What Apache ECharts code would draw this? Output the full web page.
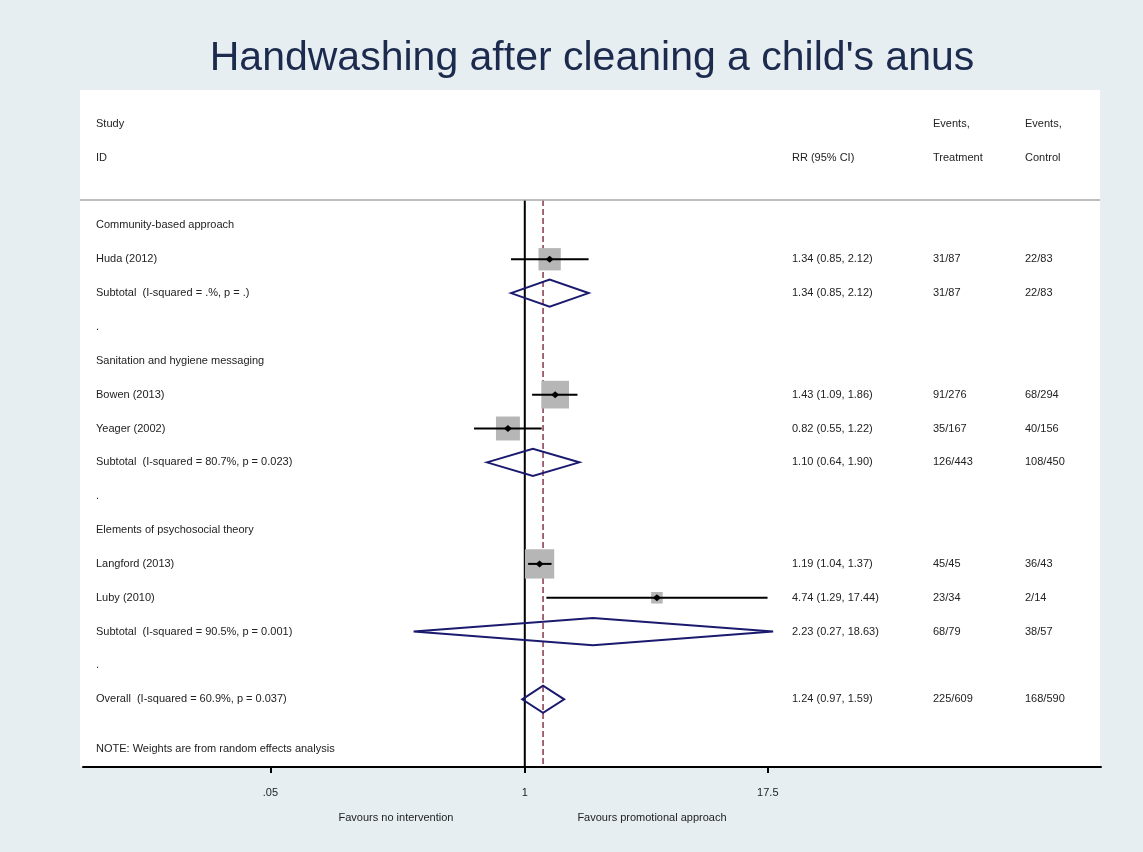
<!DOCTYPE html>
<html>
<head>
<meta charset="utf-8">
<title>Handwashing after cleaning a child's anus</title>
<script src="https://cdn.jsdelivr.net/npm/echarts@6.0.0/dist/echarts.min.js"></script>
<style>
  html, body { margin: 0; padding: 0; background: #e6eef2; }
  #chart { width: 1143px; height: 852px; }
</style>
</head>
<body>
<div id="chart"></div>
<script>
// 数据：每一行（从上到下）
const rowLabels = [
  'Community-based approach',
  'Huda (2012)',
  'Subtotal  (I-squared = .%, p = .)',
  '.',
  'Sanitation and hygiene messaging',
  'Bowen (2013)',
  'Yeager (2002)',
  'Subtotal  (I-squared = 80.7%, p = 0.023)',
  '.',
  'Elements of psychosocial theory',
  'Langford (2013)',
  'Luby (2010)',
  'Subtotal  (I-squared = 90.5%, p = 0.001)',
  '.',
  'Overall  (I-squared = 60.9%, p = 0.037)'
];
const rowKinds = ['group', 'study', 'sub', 'blank', 'group', 'study', 'study', 'sub', 'blank',
  'group', 'study', 'study', 'sub', 'blank', 'overall'];
const rrValues = [null, 1.34, 1.34, null, null, 1.43, 0.82, 1.10, null, null, 1.19, 4.74, 2.23, null, 1.24];
const rrLower = [null, 0.85, 0.85, null, null, 1.09, 0.55, 0.64, null, null, 1.04, 1.29, 0.27, null, 0.97];
const rrUpper = [null, 2.12, 2.12, null, null, 1.86, 1.22, 1.90, null, null, 1.37, 17.44, 18.63, null, 1.59];
// 随机效应权重（%），由方块大小估计
const weights = [null, 17.6, null, null, null, 27.1, 20.3, null, null, null, 30.3, 4.7, null, null, null];
const eventsTreatment = ['', '31/87', '31/87', '', '', '91/276', '35/167', '126/443', '', '', '45/45', '23/34', '68/79', '', '225/609'];
const eventsControl = ['', '22/83', '22/83', '', '', '68/294', '40/156', '108/450', '', '', '36/43', '2/14', '38/57', '', '168/590'];

const headerTop = ['Study', '', 'Events,', 'Events,'];
const headerBottom = ['ID', 'RR (95% CI)', 'Treatment', 'Control'];
const noteText = 'NOTE: Weights are from random effects analysis';

const xTicks = [0.05, 1, 17.5];
const xTickLabels = ['.05', '1', '17.5'];
const overallRR = rrValues[rowKinds.indexOf('overall')];

// 布局
const FONT = "'Liberation Sans', Arial, sans-serif";
const TEXT_COLOR = '#222';
const COL_X = [96, 792, 933, 1025];
const HEADER_ROWS = [-3, -2];
const HEADER_LINE_ROW = -0.75;
const NOTE_ROW = 15.47;
const AXIS_ROW = 16;
const BOX_SCALE = 5.32;

const ln = Math.log;

function fmt(v) { return v.toFixed(2); }

const chart = echarts.init(document.getElementById('chart'));

// 文本列
function renderText(params, api) {
  const i = params.dataIndex;
  const children = [];
  const addText = (x, y, text) => {
    if (!text) return;
    children.push({
      type: 'text', x: x, y: y,
      style: { text: text, fill: TEXT_COLOR, font: '11px ' + FONT, align: 'left', verticalAlign: 'middle' }
    });
  };
  if (i === 0) {
    // 表头
    const y1 = api.coord([0, HEADER_ROWS[0]])[1];
    const y2 = api.coord([0, HEADER_ROWS[1]])[1];
    [0, 1, 2, 3].forEach(c => {
      addText(COL_X[c], y1, headerTop[c]);
      addText(COL_X[c], y2, headerBottom[c]);
    });
    addText(COL_X[0], api.coord([0, NOTE_ROW])[1], noteText);
    const hl = api.coord([0, HEADER_LINE_ROW])[1];
    children.push({
      type: 'line',
      shape: { x1: 80, y1: hl, x2: 1100, y2: hl },
      style: { stroke: '#a8a8a8', lineWidth: 1.5 }
    });
  }
  const y = api.coord([0, i])[1];
  addText(COL_X[0], y, rowLabels[i]);
  if (rrValues[i] != null) {
    addText(COL_X[1], y, fmt(rrValues[i]) + ' (' + fmt(rrLower[i]) + ', ' + fmt(rrUpper[i]) + ')');
  }
  addText(COL_X[2], y, eventsTreatment[i]);
  addText(COL_X[3], y, eventsControl[i]);
  return { type: 'group', children: children };
}

// 参考线
function renderRefLines(params, api) {
  const top0 = api.coord([0, HEADER_LINE_ROW]);
  const bot0 = api.coord([0, AXIS_ROW]);
  const topO = api.coord([ln(overallRR), HEADER_LINE_ROW]);
  const botO = api.coord([ln(overallRR), AXIS_ROW]);
  return {
    type: 'group',
    children: [
      { type: 'line', shape: { x1: top0[0], y1: top0[1], x2: bot0[0], y2: bot0[1] },
        style: { stroke: '#000', lineWidth: 2 } },
      { type: 'line', shape: { x1: topO[0], y1: topO[1], x2: botO[0], y2: botO[1] },
        style: { stroke: '#8a3848', lineWidth: 1.5, lineDash: [6, 3] } }
    ]
  };
}

// 单个研究：方块 + 置信区间 + 点
function renderStudy(params, api) {
  const c = api.coord([api.value(0), api.value(3)]);
  const l = api.coord([api.value(1), api.value(3)]);
  const h = api.coord([api.value(2), api.value(3)]);
  const s = BOX_SCALE * Math.sqrt(api.value(4));
  return {
    type: 'group',
    children: [
      { type: 'rect', shape: { x: c[0] - s / 2, y: c[1] - s / 2, width: s, height: s },
        style: { fill: '#b6b6b6' } },
      { type: 'line', shape: { x1: l[0], y1: l[1], x2: h[0], y2: h[1] },
        style: { stroke: '#000', lineWidth: 2 } },
      { type: 'polygon', shape: { points: [[c[0] - 4, c[1]], [c[0], c[1] - 3.5], [c[0] + 4, c[1]], [c[0], c[1] + 3.5]] },
        style: { fill: '#000' } }
    ]
  };
}

// 合并效应菱形
function renderDiamond(params, api) {
  const r = api.value(3);
  const pts = [
    api.coord([api.value(1), r]),
    api.coord([api.value(0), r - 0.4]),
    api.coord([api.value(2), r]),
    api.coord([api.value(0), r + 0.4])
  ];
  return {
    type: 'polygon',
    shape: { points: pts },
    style: { fill: 'none', stroke: '#1a1a6e', lineWidth: 2 }
  };
}

const studyData = [];
const diamondData = [];
rowKinds.forEach((k, i) => {
  if (k === 'study') {
    studyData.push([ln(rrValues[i]), ln(rrLower[i]), ln(rrUpper[i]), i, weights[i]]);
  } else if (k === 'sub' || k === 'overall') {
    diamondData.push([ln(rrValues[i]), ln(rrLower[i]), ln(rrUpper[i]), i]);
  }
});

const tickValues = xTicks.map(ln);

const option = {
  backgroundColor: '#e6eef2',
  animation: false,
  graphic: [
    { type: 'rect', z: -10, shape: { x: 80, y: 90, width: 1020, height: 677 }, style: { fill: '#ffffff' } },
    { type: 'text', x: 592, y: 59,
      style: { text: "Handwashing after cleaning a child's anus", font: '41px ' + FONT, fill: '#1c2b4d', align: 'center', verticalAlign: 'middle' } },
    { type: 'text', x: 396, y: 818,
      style: { text: 'Favours no intervention', font: '11px ' + FONT, fill: TEXT_COLOR, align: 'center', verticalAlign: 'middle' } },
    { type: 'text', x: 652, y: 818,
      style: { text: 'Favours promotional approach', font: '11px ' + FONT, fill: TEXT_COLOR, align: 'center', verticalAlign: 'middle' } }
  ],
  grid: { left: 83, right: 42, top: 90, bottom: 85 },
  xAxis: {
    type: 'value',
    min: -5.203,
    max: 6.786,
    axisLine: { show: true, onZero: false, lineStyle: { color: '#000', width: 2 } },
    axisTick: { show: true, customValues: tickValues, length: 6, lineStyle: { color: '#000', width: 2 } },
    axisLabel: {
      customValues: tickValues,
      margin: 20,
      color: TEXT_COLOR,
      fontFamily: FONT,
      fontSize: 11,
      formatter: function (v) {
        const idx = tickValues.findIndex(t => Math.abs(t - v) < 1e-6);
        return idx >= 0 ? xTickLabels[idx] : '';
      }
    },
    splitLine: { show: false }
  },
  yAxis: {
    type: 'value',
    inverse: true,
    min: -4,
    max: 16,
    show: false
  },
  series: [
    { type: 'custom', name: 'ref', renderItem: renderRefLines, data: [[0, 0]], z: 1, silent: true },
    { type: 'custom', name: 'studies', renderItem: renderStudy, data: studyData, z: 2, encode: { x: 0, y: 3 } },
    { type: 'custom', name: 'pooled', renderItem: renderDiamond, data: diamondData, z: 3, encode: { x: 0, y: 3 } },
    { type: 'custom', name: 'text', renderItem: renderText, data: rowLabels.map((_, i) => [0, i]), z: 4, silent: true }
  ]
};

chart.setOption(option);
</script>
</body>
</html>
